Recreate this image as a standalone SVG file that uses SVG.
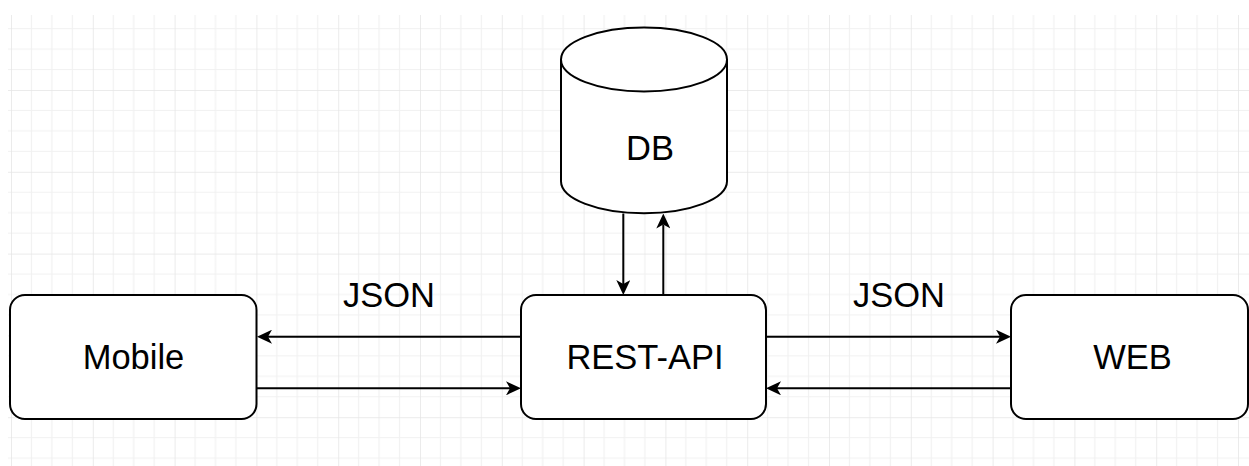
<svg xmlns="http://www.w3.org/2000/svg" width="1249" height="466" viewBox="0 0 1249 466">
  <defs>
    <pattern id="grid" patternUnits="userSpaceOnUse" x="11" y="8.2" width="81.8" height="81.8">
      <path d="M20.45,0V81.8M40.9,0V81.8M61.35,0V81.8M0,20.45H81.8M0,40.9H81.8M0,61.35H81.8" stroke="#f1f1f1" stroke-width="1.2" fill="none"/>
      <path d="M0,0V81.8M0,0H81.8" stroke="#e5e5e5" stroke-width="1.5" fill="none"/>
    </pattern>
    <marker id="arrow" viewBox="0 0 15 14" refX="4" refY="7" markerWidth="15" markerHeight="14" markerUnits="userSpaceOnUse" orient="auto">
      <path d="M0,0 L15,7 L0,14 L4,7 Z" fill="#000"/>
    </marker>
    <style>
      .shape { fill: #fff; stroke: #000; stroke-width: 2; }
      .label { font-family: "Liberation Sans", Arial, sans-serif; font-size: 34.5px; fill: #000; text-anchor: middle; }
      .edge { fill: none; stroke: #000; stroke-width: 2; marker-end: url(#arrow); }
    </style>
  </defs>

  <rect width="1249" height="466" fill="#fff"/>
  <rect x="8" y="15" width="1241" height="451" fill="url(#grid)"/>

  <g id="connectors">
    <!-- REST-API <-> Mobile -->
    <path class="edge" d="M521,336.7 H268"/>
    <path class="edge" d="M257,388.3 H510"/>
    <!-- REST-API <-> WEB -->
    <path class="edge" d="M766,336.7 H1000"/>
    <path class="edge" d="M1011,388.3 H777"/>
    <!-- DB <-> REST-API -->
    <path class="edge" d="M623.3,213.5 V284"/>
    <path class="edge" d="M663.3,295 V224.5"/>
    <text class="label" x="389" y="306.5">JSON</text>
    <text class="label" x="899" y="306.5">JSON</text>
  </g>

  <g id="db">
    <path class="shape" d="M561,59.5 A83,32 0 0 1 727,59.5 V181.3 A83,32 0 0 1 561,181.3 Z"/>
    <path d="M561,59.5 A83,32 0 0 0 727,59.5" fill="none" stroke="#000" stroke-width="2"/>
    <text class="label" x="650" y="160">DB</text>
  </g>

  <g id="mobile">
    <rect class="shape" x="10" y="295" width="246.5" height="124" rx="15" ry="15"/>
    <text class="label" x="133.5" y="368.5">Mobile</text>
  </g>

  <g id="rest-api">
    <rect class="shape" x="521" y="295" width="245" height="124" rx="15" ry="15"/>
    <text class="label" x="645" y="368.5">REST-API</text>
  </g>

  <g id="web">
    <rect class="shape" x="1011" y="295" width="237" height="124" rx="15" ry="15"/>
    <text class="label" x="1132.5" y="368.5">WEB</text>
  </g>
</svg>
